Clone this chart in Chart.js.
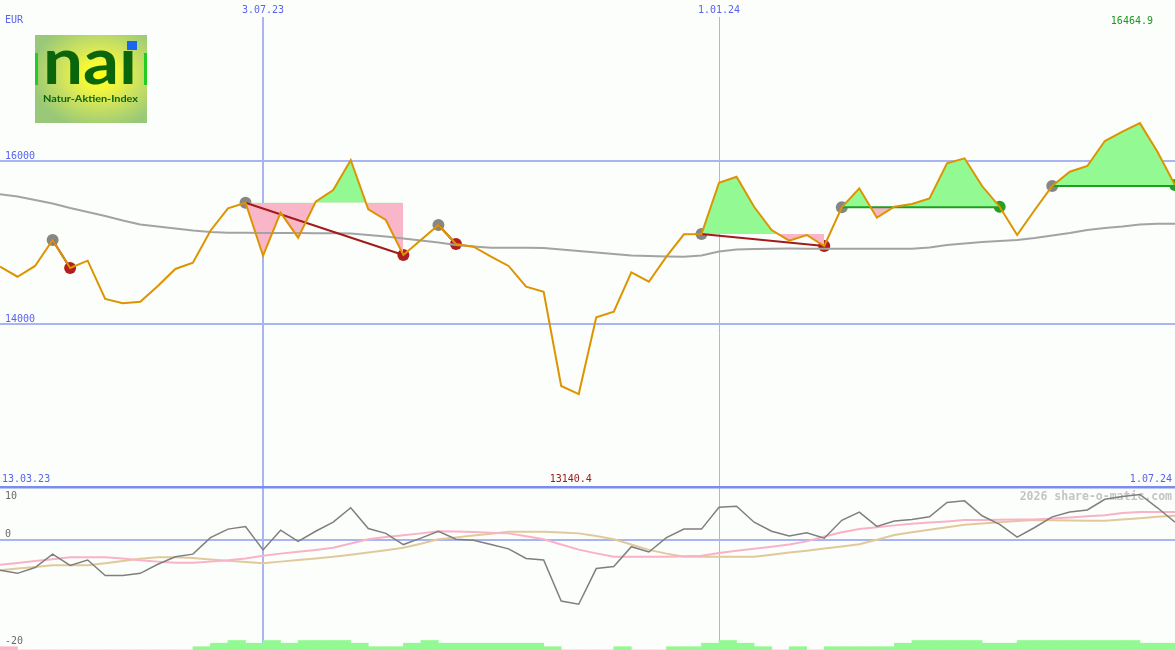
<!DOCTYPE html>
<html>
<head>
<meta charset="utf-8">
<title>NAI Natur-Aktien-Index</title>
<script src="https://cdn.jsdelivr.net/npm/chart.js@4.4.1/dist/chart.umd.min.js"></script>
<style>
html, body { margin: 0; padding: 0; background: #fbfefb; }
#wrap { position: relative; width: 1175px; height: 650px; overflow: hidden; }
#logo { position: absolute; left: 35px; top: 35px; }
</style>
</head>
<body>
<div id="wrap">
    <canvas id="chart"></canvas>
    <svg id="logo" width="112" height="88" viewBox="0 0 112 88">
        <defs>
            <radialGradient id="logoBg" cx="0.58" cy="0.45" r="0.62">
                <stop offset="0" stop-color="#ffff10"/>
                <stop offset="0.25" stop-color="#f4f83a"/>
                <stop offset="0.55" stop-color="#cfe35e"/>
                <stop offset="1" stop-color="#98c878"/>
            </radialGradient>
            <clipPath id="noDot"><path d="M0 0H86V88H0Z M86 15H112V88H86Z"/></clipPath>
        </defs>
        <rect width="112" height="88" fill="url(#logoBg)"/>
        <rect x="0" y="18" width="3" height="32" fill="#22cc22"/>
        <rect x="109" y="18" width="3" height="32" fill="#22cc22"/>
        <text x="8" y="49" font-family="Lato, 'Noto Sans', sans-serif" font-weight="bold" font-size="64"
              fill="#0b650b" textLength="94" lengthAdjust="spacingAndGlyphs" clip-path="url(#noDot)">nai</text>
        <rect x="92" y="6" width="10" height="9" fill="#1a66f0"/>
        <text x="8" y="67" font-family="Lato, 'Noto Sans', sans-serif" font-weight="bold" font-size="9.5"
              fill="#0b650b" textLength="95" lengthAdjust="spacingAndGlyphs">Natur-Aktien-Index</text>
    </svg>
</div>
<script>
"use strict";
// weekly closes, index 0 .. 67
var closeVals = [14703, 14580, 14712, 15031, 14687, 14777, 14307, 14254, 14274, 14466,
    14675, 14752, 15145, 15420, 15488, 14838, 15366, 15059, 15500, 15644,
    16012, 15407, 15276, 14847, 15031, 15215, 14982, 14948, 14826, 14712,
    14458, 14396, 13239, 13140.4, 14082, 14151, 14634, 14519, 14826, 15100,
    15104, 15734, 15807, 15439, 15153, 15022, 15092, 14957, 15432, 15665,
    15305, 15439, 15472, 15542, 15972, 16033, 15693, 15439, 15092, 15399,
    15693, 15869, 15939, 16245, 16360, 16464.9, 16114, 15705];
// moving average (grey)
var maVals = [15591, 15564, 15521, 15479, 15423, 15374, 15325, 15270, 15221, 15196,
    15172, 15147, 15129, 15120, 15119, 15117, 15117, 15117, 15114, 15113,
    15110, 15092, 15074, 15049, 15025, 15000, 14969, 14951, 14936, 14936,
    14936, 14932, 14914, 14896, 14877, 14859, 14840, 14834, 14828, 14826,
    14840, 14890, 14914, 14920, 14924, 14926, 14924, 14924, 14924, 14924,
    14924, 14924, 14924, 14939, 14969, 14988, 15006, 15018, 15031, 15055,
    15086, 15117, 15153, 15178, 15196, 15221, 15231, 15231];
// oscillator panel
var oscVals = [-5.6, -6.2, -5.1, -2.6, -4.7, -3.7, -6.6, -6.6, -6.2, -4.5,
    -3.1, -2.6, 0.5, 2.1, 2.6, -1.8, 1.9, -0.2, 1.7, 3.4,
    6.1, 2.2, 1.3, -0.8, 0.4, 1.7, 0.2, 0, -0.8, -1.6,
    -3.4, -3.7, -11.4, -12.0, -5.3, -4.9, -1.2, -2.2, 0.5, 2.1,
    2.1, 6.2, 6.4, 3.4, 1.7, 0.8, 1.4, 0.4, 3.75, 5.3,
    2.6, 3.6, 3.9, 4.4, 7.1, 7.4, 4.6, 3.0, 0.6, 2.4,
    4.4, 5.3, 5.7, 7.7, 8.2, 8.6, 6.1, 3.4];
var oscFast = [-4.6, -4.25, -3.9, -3.55, -3.2, -3.2, -3.2, -3.4, -3.75, -4.0,
    -4.2, -4.2, -4.0, -3.75, -3.4, -2.9, -2.5, -2.15, -1.8, -1.4,
    -0.6, 0.2, 0.6, 0.95, 1.3, 1.7, 1.65, 1.55, 1.4, 1.3,
    0.75, 0.2, -0.8, -1.75, -2.45, -3.1, -3.1, -3.1, -3.1, -3.0,
    -2.9, -2.4, -1.95, -1.6, -1.2, -0.8, -0.2, 0.7, 1.5, 2.1,
    2.45, 2.8, 3.1, 3.35, 3.55, 3.8, 3.8, 3.85, 3.9, 3.9,
    4.1, 4.3, 4.5, 4.7, 5.1, 5.3, 5.3, 5.3];
var oscSlow = [-5.6, -5.3, -5.0, -4.7, -4.7, -4.7, -4.3, -3.9, -3.45, -3.2,
    -3.2, -3.3, -3.6, -3.85, -4.05, -4.3, -4.0, -3.7, -3.4, -3.1,
    -2.7, -2.3, -1.85, -1.4, -0.65, 0.2, 0.55, 0.9, 1.25, 1.6,
    1.6, 1.6, 1.45, 1.3, 0.8, 0.2, -0.8, -1.8, -2.5, -3.1,
    -3.1, -3.1, -3.1, -3.1, -2.7, -2.3, -1.95, -1.55, -1.15, -0.75,
    0.1, 1.0, 1.5, 2.0, 2.45, 2.9, 3.15, 3.4, 3.6, 3.8,
    3.75, 3.7, 3.65, 3.65, 3.9, 4.15, 4.4, 4.6];
// flow strip at the bottom, one value per week interval (negative = pink)
var flowVals = [-3.3, 0, 0, 0, 0, 0, 0, 0, 0, 0,
    0, 3.3, 6.8, 9.5, 6.8, 9.5, 6.8, 9.5, 9.5, 9.5,
    6.8, 3.3, 3.3, 6.8, 9.5, 6.8, 6.8, 6.8, 6.8, 6.8,
    6.8, 3.3, 0, 0, 0, 3.3, 0, 0, 3.3, 3.3,
    6.8, 9.5, 6.8, 3.3, 0, 3.3, 0, 3.3, 3.3, 3.3,
    3.3, 6.8, 9.5, 9.5, 9.5, 9.5, 6.8, 6.8, 9.5, 9.5,
    9.5, 9.5, 9.5, 9.5, 9.5, 6.8, 6.8];

var dateTickIdx = [15, 41];
var dateTickLabels = ['3.07.23', '1.01.24'];
var rangeLabels = ['13.03.23', '1.07.24'];
var priceTicks = [14000, 16000];
var oscTicks = [10, 0, -20];

// signals: entry week, exit week, result
var tradeEntry = [3, 14, 25, 40, 48, 60];
var tradeExit = [4, 23, 26, 47, 57, 67];
var tradeWin = [false, false, false, false, true, true];

var BLUE_TEXT = '#5a63f0';
var GRID = '#a9b5f2';
var DIVIDER = '#7b8bee';
var ORANGE = '#dc9400';
var FILL_GREEN = '#93f993';
var FILL_PINK = '#f9b6c9';

function pts(arr, from, to) {
    var out = [];
    for (var i = from; i <= to; i++) out.push({x: i, y: arr[i]});
    return out;
}

var datasets = [];
datasets.push({data: pts(closeVals, 0, closeVals.length - 1), yAxisID: 'y', borderColor: ORANGE,
    borderWidth: 2, pointRadius: 0, order: 0});
// trade lines
tradeEntry.forEach(function (e, k) {
    var x = tradeExit[k];
    var d = tradeWin[k] ?
        [{x: e, y: closeVals[e]}, {x: x, y: closeVals[e]}] :
        [{x: e, y: closeVals[e]}, {x: x, y: closeVals[x]}];
    datasets.push({data: d, yAxisID: 'y', borderColor: tradeWin[k] ? '#1f9f1f' : '#a31a1a',
        borderWidth: 2, pointRadius: 0, order: 1});
});
datasets.push({data: pts(maVals, 0, maVals.length - 1), yAxisID: 'y', borderColor: '#a3a3a3',
    borderWidth: 2, pointRadius: 0, order: 2});
// fills between price and entry level
tradeEntry.forEach(function (e, k) {
    var x = tradeExit[k];
    var baseIdx = datasets.length;
    var base = [];
    for (var i = e; i <= x; i++) base.push({x: i, y: closeVals[e]});
    datasets.push({data: base, yAxisID: 'y', borderWidth: 0, borderColor: 'transparent',
        pointRadius: 0, fill: false, order: 3});
    datasets.push({data: pts(closeVals, e, x), yAxisID: 'y', borderWidth: 0, borderColor: 'transparent',
        pointRadius: 0, order: 3, stepped: (x - e === 1) ? 'before' : false,
        fill: {target: baseIdx, above: FILL_GREEN, below: FILL_PINK}});
});
// markers
datasets.push({data: tradeEntry.map(function (i) { return {x: i, y: closeVals[i]}; }), yAxisID: 'y',
    showLine: false, pointRadius: 6, pointBorderWidth: 0, pointBackgroundColor: '#868686', order: 4});
datasets.push({data: tradeExit.map(function (i) { return {x: i, y: closeVals[i]}; }), yAxisID: 'y',
    showLine: false, pointRadius: 6, pointBorderWidth: 0,
    pointBackgroundColor: tradeWin.map(function (w) { return w ? '#23a023' : '#b01e1e'; }), order: 4});
// oscillator panel
datasets.push({data: pts(oscVals, 0, oscVals.length - 1), yAxisID: 'y2', borderColor: '#7f7f7f',
    borderWidth: 1.5, pointRadius: 0, order: 0});
datasets.push({data: pts(oscFast, 0, oscFast.length - 1), yAxisID: 'y2', borderColor: '#f9b2c6',
    borderWidth: 2, pointRadius: 0, order: 1});
datasets.push({data: pts(oscSlow, 0, oscSlow.length - 1), yAxisID: 'y2', borderColor: '#e2c99c',
    borderWidth: 2, pointRadius: 0, order: 2});
datasets.push({type: 'bar', yAxisID: 'yB', order: 5, borderWidth: 0,
    data: flowVals.map(function (v, j) { return {x: j + 0.5, y: Math.abs(v)}; }),
    backgroundColor: flowVals.map(function (v) { return v < 0 ? FILL_PINK : FILL_GREEN; }),
    barPercentage: 1, categoryPercentage: 1});

var textPlugin = {
    id: 'panelText',
    beforeDatasetsDraw: function (chart) {
        var ctx = chart.ctx, y2 = chart.scales.y2;
        ctx.save();
        ctx.font = 'bold 11.5px "DejaVu Sans Mono", monospace';
        ctx.textBaseline = 'middle';
        ctx.textAlign = 'right';
        ctx.fillStyle = '#c4c4c4';
        ctx.fillText('2026 share-o-matic.com', 1172, y2.top + 10);
        ctx.restore();
    },
    afterDraw: function (chart) {
        var ctx = chart.ctx, x = chart.scales.x, y = chart.scales.y, y2 = chart.scales.y2;
        ctx.save();
        ctx.font = '10px "DejaVu Sans Mono", monospace';
        ctx.textBaseline = 'middle';
        ctx.textAlign = 'left';
        ctx.fillStyle = BLUE_TEXT;
        ctx.fillText('EUR', 5, y.top + 3);
        priceTicks.forEach(function (v) {
            ctx.fillText(String(v), 5, y.getPixelForValue(v) - 5);
        });
        ctx.fillText(rangeLabels[0], 2, y.bottom - 8);
        ctx.textAlign = 'right';
        ctx.fillText(rangeLabels[1], 1172, y.bottom - 8);
        // min / max of the period
        var mn = Math.min.apply(null, closeVals), mx = Math.max.apply(null, closeVals);
        ctx.textAlign = 'center';
        ctx.fillStyle = '#a01818';
        ctx.fillText(mn.toFixed(1), x.getPixelForValue(closeVals.indexOf(mn)) - 8, y.bottom - 8);
        ctx.fillStyle = '#1a9a1a';
        ctx.fillText(mx.toFixed(1), x.getPixelForValue(closeVals.indexOf(mx)) - 8, y.top + 4);
        // oscillator labels
        ctx.textAlign = 'left';
        ctx.fillStyle = '#6a6a6a';
        oscTicks.forEach(function (v) {
            var p = y2.getPixelForValue(v);
            ctx.fillText(String(v), 5, (p - 6 < y2.top + 4) ? p + 9 : p - 6);
        });
        ctx.restore();
    }
};

new Chart(document.getElementById('chart'), {
    type: 'line',
    data: {datasets: datasets},
    plugins: [textPlugin],
    options: {
        responsive: true,
        maintainAspectRatio: false,
        animation: false,
        events: [],
        layout: {autoPadding: false, padding: {top: 3, left: 0, right: 0, bottom: 0}},
        plugins: {legend: {display: false}, tooltip: {enabled: false}},
        scales: {
            x: {
                type: 'linear', position: 'top', min: 0, max: closeVals.length - 1, offset: false,
                afterBuildTicks: function (s) { s.ticks = dateTickIdx.map(function (v) { return {value: v}; }); },
                ticks: {
                    autoSkip: false, maxRotation: 0, padding: 1, color: BLUE_TEXT,
                    font: {family: 'DejaVu Sans Mono', size: 10},
                    callback: function (v, i) { return dateTickLabels[i]; }
                },
                grid: {color: GRID, drawTicks: false, offset: false,
                    lineWidth: function (c) { return c.index === 0 ? 2 : 1; }},
                border: {display: false}
            },
            y: {
                type: 'linear', position: 'right', stack: 'panels', stackWeight: 470,
                min: 12000, max: 17767,
                afterBuildTicks: function (s) { s.ticks = priceTicks.map(function (v) { return {value: v}; }); },
                ticks: {display: false},
                grid: {color: GRID, lineWidth: 2, drawTicks: false},
                border: {display: false}
            },
            y2: {
                type: 'linear', position: 'right', stack: 'panels', stackWeight: 163,
                min: -20.58, max: 10,
                afterBuildTicks: function (s) { s.ticks = oscTicks.map(function (v) { return {value: v}; }); },
                ticks: {display: false},
                grid: {
                    drawTicks: false,
                    color: function (c) { return c.tick.value === 10 ? DIVIDER : (c.tick.value === 0 ? GRID : 'transparent'); },
                    lineWidth: function (c) { return c.tick.value === 10 ? 2.5 : 2; }
                },
                border: {display: false}
            },
            yB: {type: 'linear', display: false, min: 0, max: 633}
        }
    }
});
</script>
</body>
</html>
